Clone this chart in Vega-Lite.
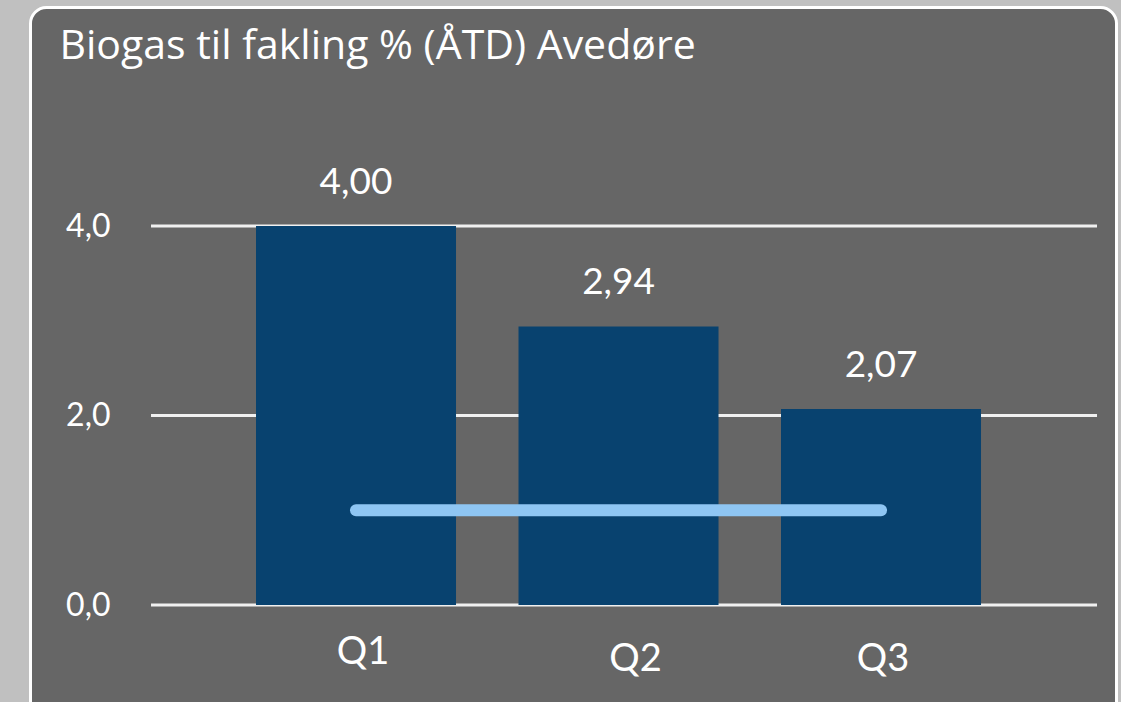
{
  "$schema": "https://vega.github.io/schema/vega-lite/v6.json",
  "width": 1086,
  "height": 710,
  "autosize": {"type": "none"},
  "padding": {"left": 30.5, "top": 7.5, "right": 4.5, "bottom": 0},
  "background": "#c0c0c0",
  "title": {
    "text": "Biogas til fakling % (ÅTD) Avedøre",
    "anchor": "start",
    "frame": "group",
    "orient": "top",
    "offset": 0,
    "baseline": "alphabetic",
    "dx": 29,
    "dy": 92,
    "font": "Open Sans",
    "fontSize": 41,
    "fontWeight": "normal",
    "color": "#ffffff"
  },
  "datasets": {
    "bars": [
      {"q": "Q1", "value": 4.00, "target": 1},
      {"q": "Q2", "value": 2.94, "target": 1},
      {"q": "Q3", "value": 2.07, "target": 1}
    ],
    "grid": [{"v": 0}, {"v": 2}, {"v": 4}]
  },
  "layer": [
    {
      "data": {"name": "grid"},
      "mark": {"type": "rule", "color": "#f0f0f0", "strokeWidth": 3},
      "encoding": {
        "y": {"field": "v", "type": "quantitative"},
        "x": {"datum": "Q1", "type": "nominal", "bandPosition": -0.525},
        "x2": {"datum": "Q3", "bandPosition": 1.58}
      }
    },
    {
      "data": {"name": "bars"},
      "mark": {"type": "bar", "color": "#08426f"},
      "encoding": {
        "x": {
          "field": "q",
          "type": "nominal",
          "scale": {"domain": ["Q1", "Q2", "Q3"], "paddingInner": 0.2381, "paddingOuter": 0.6876, "align": 0.6247},
          "axis": {
            "title": null,
            "orient": "bottom",
            "domain": false,
            "ticks": false,
            "tickSize": 0,
            "grid": false,
            "labelAngle": 0,
            "labelAlign": "center",
            "labelFont": "Lato",
            "labelFontSize": 38,
            "labelColor": "#ffffff",
            "labelBaseline": "alphabetic",
            "offset": -47.5,
            "labelPadding": {"condition": {"test": "datum.value === 'Q1'", "value": -7}, "value": 0},
            "labelOffset": {"condition": [{"test": "datum.value === 'Q1'", "value": 7}, {"test": "datum.value === 'Q2'", "value": 17}], "value": 2}
          }
        },
        "y": {
          "field": "value",
          "type": "quantitative",
          "scale": {"domain": [-1.187, 6.306], "nice": false, "zero": false},
          "axis": {
            "title": null,
            "values": [0, 2, 4],
            "format": ",.1f",
            "domain": false,
            "ticks": false,
            "tickSize": 0,
            "grid": false,
            "offset": -79.5,
            "labelPadding": 0,
            "labelFont": "Lato",
            "labelFontSize": 32,
            "labelColor": "#ffffff",
            "labelBaseline": "middle"
          }
        }
      }
    },
    {
      "data": {"name": "bars"},
      "mark": {"type": "text", "font": "Lato", "fontSize": 37, "color": "#ffffff", "baseline": "alphabetic", "dy": -32},
      "encoding": {
        "x": {"field": "q", "type": "nominal"},
        "y": {"field": "value", "type": "quantitative"},
        "text": {"field": "value", "type": "quantitative", "format": ",.2f"}
      }
    },
    {
      "data": {"name": "bars"},
      "mark": {"type": "line", "color": "#8fc6f3", "strokeWidth": 12, "strokeCap": "round"},
      "encoding": {
        "x": {"field": "q", "type": "nominal"},
        "y": {"field": "target", "type": "quantitative"}
      }
    }
  ],
  "config": {
    "locale": {"number": {"decimal": ",", "thousands": ".", "grouping": [3], "currency": ["", " kr."]}},
    "view": {"fill": "#666666", "stroke": "#ffffff", "strokeWidth": 3, "cornerRadius": 16}
  }
}
